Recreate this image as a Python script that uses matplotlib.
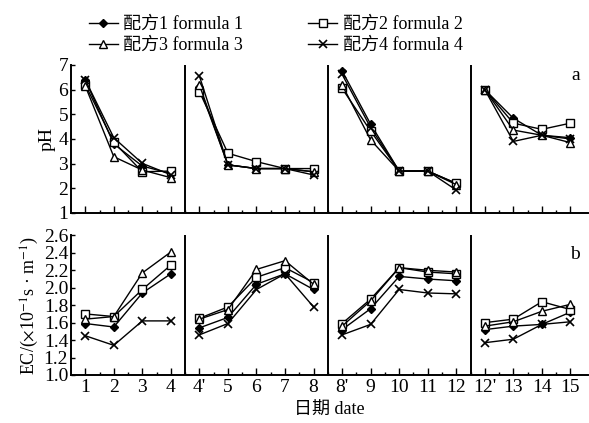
import numpy as np
import matplotlib
matplotlib.use('Agg')
import matplotlib.pyplot as plt
from matplotlib.ticker import FixedLocator

plt.rcParams['font.family'] = ['Liberation Serif', 'Noto Sans CJK SC']
plt.rcParams['mathtext.fontset'] = 'stix'

# x positions: 4 sampling periods, separated by vertical lines
date_labels = ['1', '2', '3', '4', "4'", '5', '6', '7', '8',
               "8'", '9', '10', '11', '12', "12'", '13', '14', '15']
groups = [(0, 4), (4, 9), (9, 14), (14, 18)]

legend_labels = ['配方1 formula 1', '配方2 formula 2',
                 '配方3 formula 3', '配方4 formula 4']

# pH values
ph_f1 = [6.40, 3.80, 2.90, 2.60, 6.10, 2.95, 2.80, 2.80, 2.67,
         6.76, 4.60, 2.70, 2.70, 2.20, 6.00, 4.84, 4.15, 4.05]
ph_f2 = [6.20, 3.87, 2.67, 2.70, 5.92, 3.42, 3.08, 2.80, 2.80,
         6.05, 4.32, 2.70, 2.70, 2.20, 6.00, 4.64, 4.39, 4.64]
ph_f3 = [6.15, 3.28, 2.74, 2.43, 6.19, 2.95, 2.80, 2.80, 2.67,
         6.19, 3.96, 2.70, 2.70, 2.15, 6.00, 4.36, 4.15, 3.85]
ph_f4 = [6.40, 4.05, 3.01, 2.55, 6.55, 2.95, 2.80, 2.80, 2.54,
         6.62, 4.46, 2.70, 2.70, 1.93, 6.00, 3.90, 4.15, 4.00]

# EC values
ec_f1 = [1.59, 1.55, 1.94, 2.16, 1.54, 1.66, 2.04, 2.16, 1.98,
         1.52, 1.76, 2.13, 2.10, 2.08, 1.52, 1.56, 1.58, 1.72]
ec_f2 = [1.70, 1.67, 1.98, 2.26, 1.65, 1.78, 2.12, 2.23, 2.06,
         1.59, 1.87, 2.23, 2.18, 2.16, 1.60, 1.64, 1.84, 1.75]
ec_f3 = [1.64, 1.67, 2.17, 2.41, 1.64, 1.75, 2.21, 2.31, 2.04,
         1.56, 1.85, 2.23, 2.20, 2.18, 1.56, 1.61, 1.73, 1.81]
ec_f4 = [1.45, 1.34, 1.62, 1.62, 1.46, 1.59, 1.98, 2.16, 1.78,
         1.46, 1.58, 1.98, 1.94, 1.93, 1.37, 1.41, 1.58, 1.61]

styles = [
    dict(marker='D', ms=4, mfc='black'),
    dict(marker='s', ms=6, mfc='white'),
    dict(marker='^', ms=6, mfc='white'),
    dict(marker='x', ms=6, mew=1.2),
]

x = np.arange(len(date_labels))

fig = plt.figure(figsize=(5.89, 4.23), dpi=100)
axa = fig.add_axes([0.1205, 0.4965, 0.877, 0.350])
axb = fig.add_axes([0.1205, 0.1135, 0.877, 0.330])


def draw_panel(ax, series):
    handles = []
    for vals, st in zip(series, styles):
        vals = np.array(vals)
        for i, (a, b) in enumerate(groups):
            h, = ax.plot(x[a:b], vals[a:b], color='black', lw=1.0,
                         mec='black', **st)
            if i == 0:
                handles.append(h)
    for a, b in groups[1:]:
        ax.axvline(a - 0.5, color='black', lw=1.4)
    ax.set_xlim(-0.5, 17.6)
    ax.spines['top'].set_visible(False)
    ax.spines['right'].set_visible(False)
    ax.spines['left'].set_linewidth(1.4)
    ax.spines['bottom'].set_linewidth(1.4)
    ax.set_xticks(x)
    ax.xaxis.set_minor_locator(FixedLocator(x[:-1] + 0.5))
    ax.tick_params(axis='x', which='major', direction='in', length=5, width=1)
    ax.tick_params(axis='x', which='minor', direction='in', length=2.5, width=1)
    ax.tick_params(axis='y', direction='in', length=3, width=1,
                   labelsize=14, pad=2)
    return handles


handles = draw_panel(axa, [ph_f1, ph_f2, ph_f3, ph_f4])
axa.set_ylim(1, 7)
axa.set_yticks(range(1, 8))
axa.set_xticklabels([])
axa.set_ylabel('pH', fontsize=14, labelpad=2)
axa.text(0.985, 0.93, 'a', transform=axa.transAxes, ha='right', va='center',
         fontsize=14)

draw_panel(axb, [ec_f1, ec_f2, ec_f3, ec_f4])
axb.set_ylim(1.0, 2.6)
axb.set_yticks(np.arange(1.0, 2.61, 0.2))
axb.set_yticklabels(['%.1f' % v for v in np.arange(1.0, 2.61, 0.2)])
axb.set_xticklabels(date_labels, fontsize=14)
axb.tick_params(axis='x', which='major', pad=3)
axb.set_ylabel(r'EC/($\times$10$^{-1}$s · m$^{-1}$)', fontsize=13, labelpad=2)
axb.set_xlabel('日期 date', fontsize=13, labelpad=4)
axb.text(0.985, 0.86, 'b', transform=axb.transAxes, ha='right', va='center',
         fontsize=14)

# legend is filled column by column: order so rows read 1,2 / 3,4
order = [0, 2, 1, 3]
fig.legend([handles[i] for i in order], [legend_labels[i] for i in order],
           ncol=2, loc='upper center', bbox_to_anchor=(0.468, 1.0),
           frameon=False, fontsize=13, handlelength=1.6, handletextpad=0.3,
           columnspacing=3.6, labelspacing=0.2)

fig.savefig('out.png', dpi=100)
